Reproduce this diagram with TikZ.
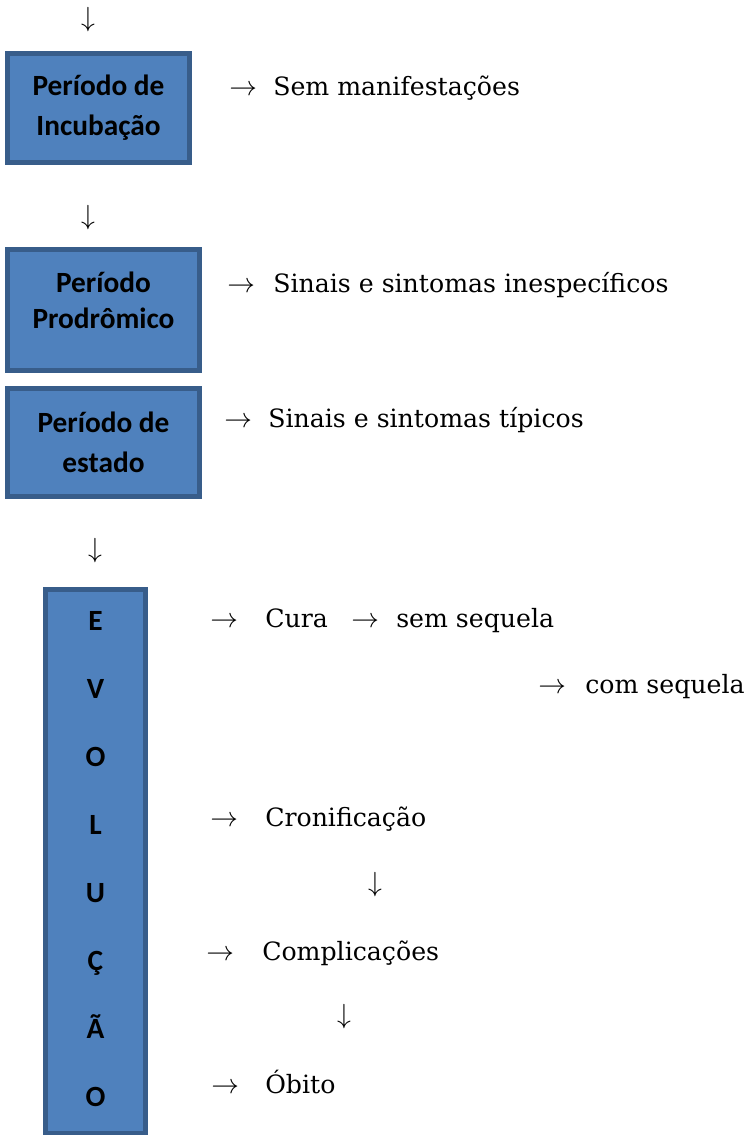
\documentclass[tikz,border=0pt]{standalone}
\usepackage{fontspec}
\setmainfont{DejaVu Serif}
\newfontfamily\titlefont{Carlito}
\usepackage{tikz}
\definecolor{boxfill}{HTML}{4F81BD}
\definecolor{boxline}{HTML}{385D8A}
\tikzset{
  phase/.style={draw=boxline, fill=boxfill, line width=3.75pt, align=center, inner sep=0pt,
    font=\titlefont\bfseries\fontsize{22}{30}\selectfont},
  letter/.style={anchor=base, inner sep=0pt, font=\titlefont\bfseries\fontsize{22}{30}\selectfont},
  note/.style={anchor=base west, inner sep=0pt, font=\fontsize{18.9}{24}\selectfont},
  arr/.style={anchor=base west, inner sep=0pt, font=\fontsize{21.5}{24}\selectfont},
  down/.style={inner sep=0pt, font=\fontsize{22.5}{24}\selectfont}
}

\begin{document}
\begin{tikzpicture}[x=0.75pt,y=-0.75pt]
  \useasboundingbox (0,0) rectangle (744,1135);

  % phases
  \node[down] (d1) at (88,20) {$\downarrow$};
  \node[phase, minimum width=136.5pt, minimum height=81.75pt] (inc) at (98.5,108) {Período de\\Incubação};
  \node[arr] (a1) at (229,95) {$\rightarrow$};
  \node[note] (t1) at (273,95) {Sem manifestações};

  \node[down] (d2) at (88,218) {$\downarrow$};
  \node[phase, minimum width=144pt, minimum height=90.75pt] (pro) at (103.5,310) {Período\\[-3pt]Prodrômico\\[-15pt]\mbox{}};
  \node[arr] (a2) at (227,292) {$\rightarrow$};
  \node[note] (t2) at (273,292) {Sinais e sintomas inespecíficos};

  \node[phase, minimum width=144pt, minimum height=81pt] (est) at (103.5,442.5) {Período de\\estado};
  \node[arr] (a3) at (224,427) {$\rightarrow$};
  \node[note] (t3) at (268,427) {Sinais e sintomas típicos};

  % evolution
  \node[down] (d3) at (95,551) {$\downarrow$};
  \node[phase, minimum width=75pt, minimum height=408pt] (evo) at (95.5,861.5) {};
  \foreach \ch [count=\i from 0] in {E,V,O,L,U,Ç,Ã,O}
    \node[letter] (l\i) at (95.5,{630+68*\i}) {\ch};

  \node[arr] (a4) at (210,627) {$\rightarrow$};
  \node[note] (cura) at (265,627) {Cura};
  \node[arr] (a5) at (351,627) {$\rightarrow$};
  \node[note] (sem) at (396,627) {sem sequela};
  \node[arr] (a6) at (538,693) {$\rightarrow$};
  \node[note] (com) at (585,693) {com sequela};

  \node[arr] (a7) at (210,826) {$\rightarrow$};
  \node[note] (cron) at (265,826) {Cronificação};
  \node[down] (d4) at (375,885) {$\downarrow$};
  \node[arr] (a8) at (206,960) {$\rightarrow$};
  \node[note] (comp) at (262,960) {Complicações};
  \node[down] (d5) at (344,1017) {$\downarrow$};
  \node[arr] (a9) at (211,1093) {$\rightarrow$};
  \node[note] (obito) at (265,1093) {Óbito};
\end{tikzpicture}
\end{document}
